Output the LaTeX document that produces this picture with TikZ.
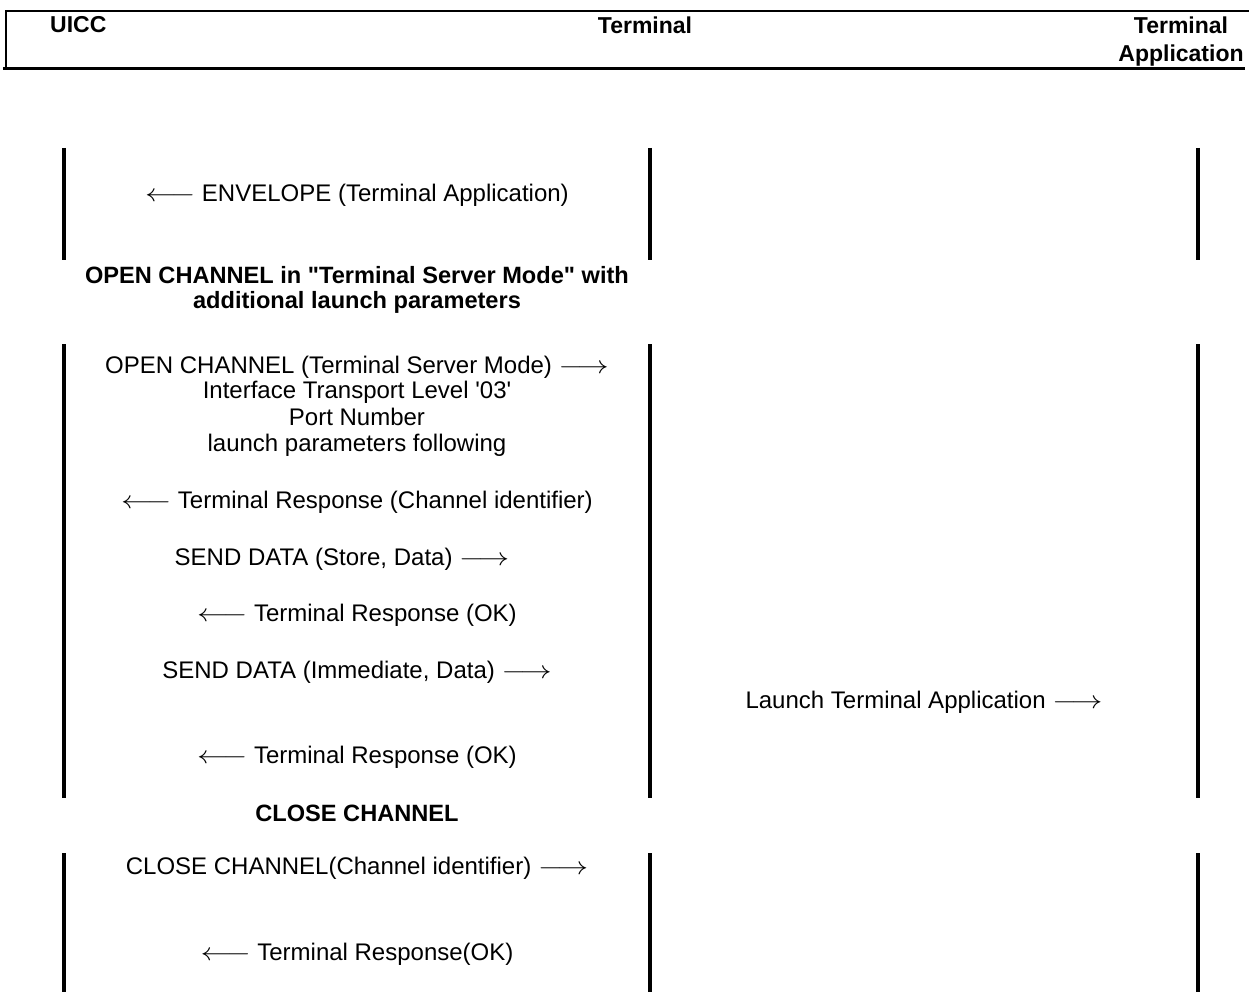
\documentclass[tikz,border=0pt]{standalone}
\usepackage{graphicx}
\usepackage{fontspec}
\setmainfont{Liberation Sans}[Ligatures=TeXOff]
\newcommand\rarr{\scalebox{1.25}[1]{$\longrightarrow$}}
\newcommand\larr{\scalebox{1.25}[1]{$\longleftarrow$}}
\begin{document}
\begin{tikzpicture}[x=1pt,y=-1pt,
  msg/.style={inner sep=0pt,font=\fontsize{24}{26}\selectfont,align=center},
  ttl/.style={inner sep=0pt,font=\fontsize{23.6}{27}\selectfont\bfseries,align=center},
  hdr/.style={inner sep=0pt,font=\fontsize{23}{28}\selectfont\bfseries,align=center},
  life/.style={line width=4pt},
  frame/.style={line width=2pt}]
\useasboundingbox (0,0) rectangle (1249,992);
% header
\draw[frame] (5,11) -- (1249,11);
\draw[frame] (6,11) -- (6,68);
\draw[line width=3pt] (3,68.5) -- (1245,68.5);
\node[hdr,anchor=west] (hU) at (50,25) {UICC};
\node[hdr] (hT) at (645,25) {Terminal};
\node[hdr] (hA) at (1181,41.2) {Terminal\\Application};
% lifelines
\foreach \x in {64,650,1198}{
  \draw[life] (\x,148) -- (\x,260);
  \draw[life] (\x,344) -- (\x,798);
  \draw[life] (\x,853) -- (\x,992);
}
% messages
\node[msg] (m1) at (357,195) {\larr{} ENVELOPE (Terminal Application)};
\node[ttl] (t1) at (357,275) {OPEN CHANNEL in "Terminal Server Mode" with};
\node[ttl] (t2) at (357,302) {additional launch parameters};
\node[msg] (m2) at (357,367) {OPEN CHANNEL (Terminal Server Mode) \rarr};
\node[msg] (m3) at (357,392) {Interface Transport Level '03'};
\node[msg] (m4) at (357,417) {Port Number};
\node[msg] (m5) at (357,445) {launch parameters following};
\node[msg] (m6) at (357,502) {\larr{} Terminal Response (Channel identifier)};
\node[msg] (m7) at (342,559) {SEND DATA (Store, Data) \rarr};
\node[msg] (m8) at (357,615) {\larr{} Terminal Response (OK)};
\node[msg] (m9) at (357,672) {SEND DATA (Immediate, Data) \rarr};
\node[msg] (m10) at (924,702) {Launch Terminal Application \rarr};
\node[msg] (m11) at (357,757) {\larr{} Terminal Response (OK)};
\node[ttl] (t3) at (357,813) {CLOSE CHANNEL};
\node[msg] (m12) at (357,868) {CLOSE CHANNEL(Channel identifier) \rarr};
\node[msg] (m13) at (357,954) {\larr{} Terminal Response(OK)};
\end{tikzpicture}
\end{document}
